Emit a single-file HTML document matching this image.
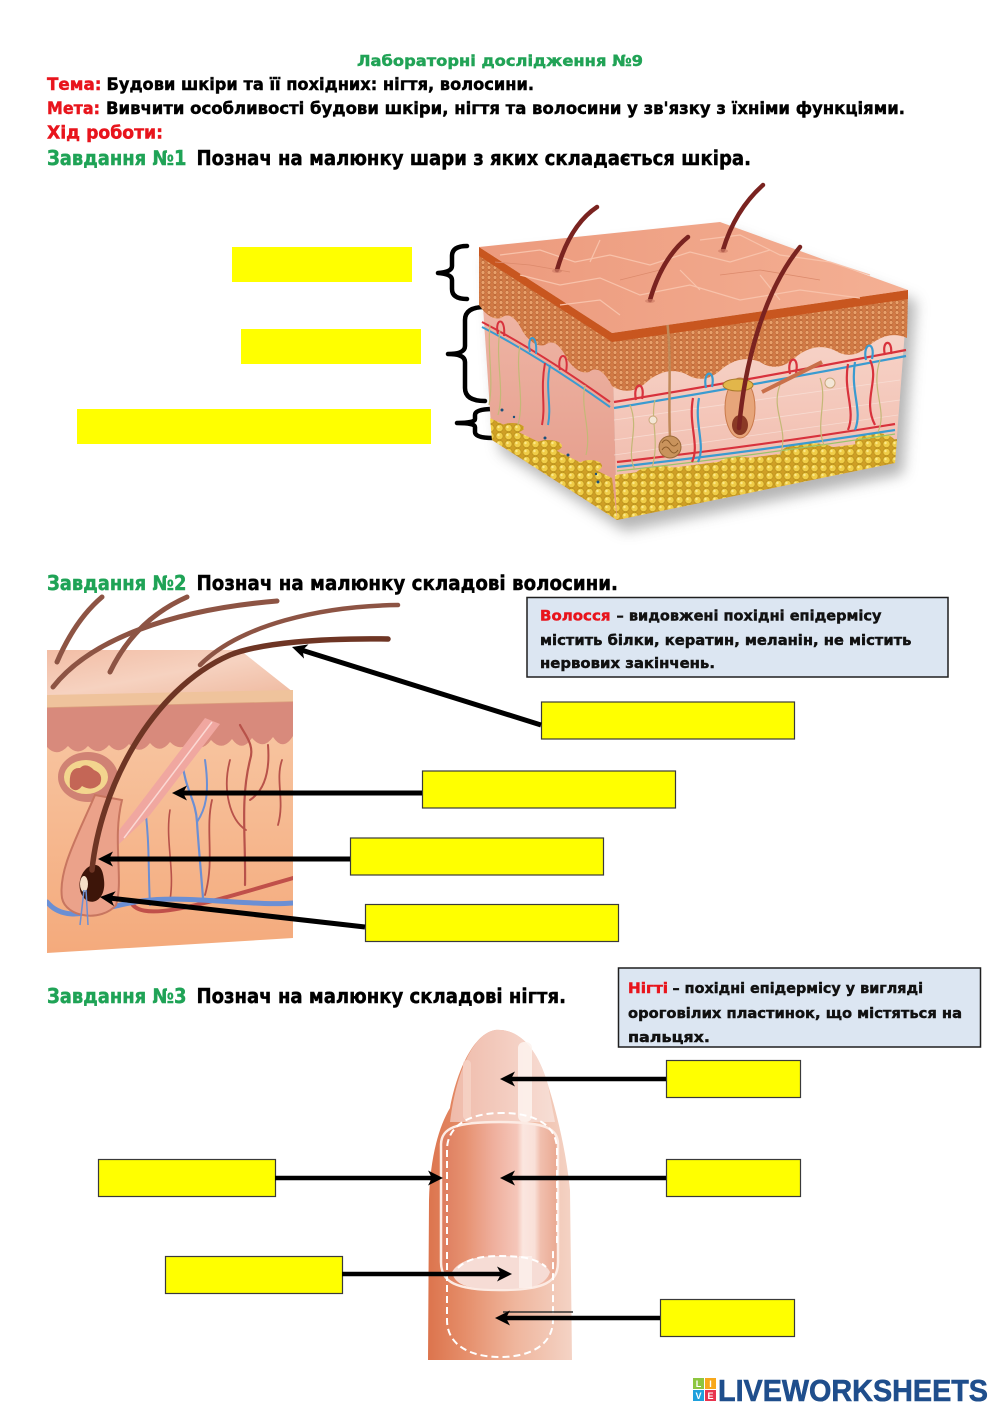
<!DOCTYPE html>
<html><head><meta charset="utf-8">
<style>
html,body{margin:0;padding:0;background:#fff;}
svg{display:block;}
.t{font-family:"DejaVu Sans","Liberation Sans",sans-serif;font-weight:bold;stroke-width:0.45;}
</style></head>
<body>
<svg width="1000" height="1414" viewBox="0 0 1000 1414" xmlns="http://www.w3.org/2000/svg">
<defs>
  <pattern id="cells" width="6" height="5" patternUnits="userSpaceOnUse">
    <rect width="6" height="5" fill="#d27a45"/>
    <circle cx="3" cy="2.5" r="2" fill="#e8a06a" stroke="#b05a2c" stroke-width="0.5"/>
  </pattern>
  <pattern id="fat" width="9" height="8" patternUnits="userSpaceOnUse">
    <rect width="9" height="8" fill="#cf9f25"/>
    <circle cx="4.5" cy="4" r="3.6" fill="#f0cd48" stroke="#b38a16" stroke-width="0.6"/>
    <circle cx="3.5" cy="3" r="1.2" fill="#fbe98a"/>
  </pattern>
  <linearGradient id="derm" x1="0" y1="0" x2="0" y2="1">
    <stop offset="0" stop-color="#f8dad0"/><stop offset="1" stop-color="#f0b6a6"/>
  </linearGradient>
  <linearGradient id="dermL" x1="0" y1="0" x2="0" y2="1">
    <stop offset="0" stop-color="#f1bcad"/><stop offset="1" stop-color="#e49a88"/>
  </linearGradient>
  <linearGradient id="topf" x1="0" y1="0" x2="1" y2="0">
    <stop offset="0" stop-color="#ec9a7d"/><stop offset="1" stop-color="#f4b094"/>
  </linearGradient>
  <filter id="blur" x="-20%" y="-20%" width="140%" height="140%"><feGaussianBlur stdDeviation="7"/></filter>
  <linearGradient id="hd" x1="0" y1="0" x2="0" y2="1">
    <stop offset="0" stop-color="#f8c9a6"/><stop offset="1" stop-color="#f4aa7c"/>
  </linearGradient>
  <linearGradient id="htop" x1="0" y1="0" x2="1" y2="1">
    <stop offset="0" stop-color="#f2bda5"/><stop offset="0.5" stop-color="#f6d2c0"/><stop offset="1" stop-color="#efb99f"/>
  </linearGradient>
  <linearGradient id="fing" x1="0" y1="0" x2="1" y2="0">
    <stop offset="0" stop-color="#dc744d"/><stop offset="0.25" stop-color="#e58d69"/>
    <stop offset="0.6" stop-color="#efb59c"/><stop offset="1" stop-color="#f4d3c5"/>
  </linearGradient>
  <linearGradient id="nail" x1="0" y1="0" x2="1" y2="0">
    <stop offset="0" stop-color="#dd7c5e"/><stop offset="0.2" stop-color="#e6906f"/>
    <stop offset="0.45" stop-color="#efaf9d"/><stop offset="0.65" stop-color="#f5c6b9"/>
    <stop offset="0.7" stop-color="#fbe6df"/><stop offset="0.8" stop-color="#f9e0d8"/>
    <stop offset="0.85" stop-color="#f1bfae"/><stop offset="1" stop-color="#e9a890"/>
  </linearGradient>
  <linearGradient id="free" x1="0" y1="0" x2="1" y2="0">
    <stop offset="0" stop-color="#efbaa9"/><stop offset="0.6" stop-color="#f4cfc3"/><stop offset="1" stop-color="#f7ded5"/>
  </linearGradient>
  <marker id="ah" viewBox="0 -8 16 16" markerWidth="16" markerHeight="16" refX="6" refY="0" orient="auto" markerUnits="userSpaceOnUse">
    <path d="M0,-7.5 L15,0 L0,7.5 L4,0 Z" fill="#000"/>
  </marker>
  <clipPath id="hclip"><rect x="47" y="597" width="246" height="356"/></clipPath>
</defs>

<!-- ================= HEADER ================= -->
<text class="t" x="357" y="66" font-size="15.5" fill="#21a356" stroke="#21a356" textLength="286" lengthAdjust="spacingAndGlyphs">Лабораторні дослідження №9</text>
<text class="t" x="47" y="90" font-size="17" fill="#e8141c" stroke="#e8141c" textLength="54.5" lengthAdjust="spacingAndGlyphs">Тема:</text>
<text class="t" x="106.5" y="90" font-size="17" fill="#000" stroke="#000" textLength="427.5" lengthAdjust="spacingAndGlyphs">Будови шкіри та її похідних: нігтя, волосини.</text>
<text class="t" x="47" y="114" font-size="17" fill="#e8141c" stroke="#e8141c" textLength="53" lengthAdjust="spacingAndGlyphs">Мета:</text>
<text class="t" x="106" y="114" font-size="17" fill="#000" stroke="#000" textLength="799" lengthAdjust="spacingAndGlyphs">Вивчити особливості будови шкіри, нігтя та волосини у зв'язку з їхніми функціями.</text>
<text class="t" x="47" y="138.5" font-size="18" fill="#e8141c" stroke="#e8141c" textLength="116" lengthAdjust="spacingAndGlyphs">Хід роботи:</text>
<text class="t" x="47" y="165" font-size="20" fill="#1fa356" stroke="#1fa356" textLength="139.5" lengthAdjust="spacingAndGlyphs">Завдання №1</text>
<text class="t" x="196.5" y="165" font-size="20" fill="#000" stroke="#000" textLength="554.5" lengthAdjust="spacingAndGlyphs">Познач на малюнку шари з яких складається шкіра.</text>

<!-- ================= SECTION 1 : skin block ================= -->
<rect x="232" y="247" width="180" height="35" fill="#ffff00"/>
<rect x="241" y="329" width="180" height="35" fill="#ffff00"/>
<rect x="77" y="409" width="354" height="35" fill="#ffff00"/>

<g fill="none" stroke="#000" stroke-width="4.5" stroke-linecap="round" stroke-linejoin="round">
  <path d="M467,246 Q452,246 452,256 L452,266 Q452,272 438,273 Q452,274 452,280 L452,289 Q452,299 467,299"/>
  <path d="M485,307 Q465,307 465,320 L465,346 Q465,354 448,354 Q465,354 465,362 L465,388 Q465,401 485,401"/>
  <path d="M493,409 Q475,409 475,415 L475,419 Q475,423 457,423 Q475,423 475,427 L475,432 Q475,438 493,438"/>
</g>

<!-- shadow -->
<polygon points="479,247 720,222 908,290 895,463 617,520 492,440" fill="#6a6a6a" opacity="0.5" filter="url(#blur)" transform="translate(8,11)"/>

<!-- left face -->
<polygon points="479,247 612,333 617,520 492,440" fill="url(#dermL)"/>
<polygon points="490,418 612,478 617,520 492,440" fill="url(#fat)"/>
<g fill="url(#fat)">
  <ellipse cx="512" cy="428" rx="12" ry="5"/><ellipse cx="548" cy="446" rx="14" ry="6"/><ellipse cx="590" cy="466" rx="12" ry="6"/>
</g>
<path d="M612,333 L479,247 L479,305 Q490,321 501,318 Q512,309 523,332 Q534,348 545,345 Q556,336 567,359 Q578,375 589,372 Q600,363 612,386 Z" fill="url(#cells)"/>
<polygon points="479,247 612,333 612,342 479,256" fill="#c8561f"/>
<!-- left face vessels -->
<g fill="none" stroke-width="2">
  <path d="M482,322 Q540,352 610,402" stroke="#d8323c"/>
  <path d="M482,327 Q540,357 610,407" stroke="#3a9bd0"/>
  <path d="M498,334 C494,318 506,316 504,336" stroke="#d8323c"/>
  <path d="M530,352 C526,334 538,332 536,354" stroke="#3a9bd0"/>
  <path d="M560,370 C556,352 570,350 566,372" stroke="#d8323c"/>
  <path d="M550,365 C545,390 552,405 548,425" stroke="#3a9bd0"/>
  <path d="M545,363 C540,390 546,405 542,425" stroke="#d8323c"/>
</g>
<g fill="none" stroke="#c4b877" stroke-width="1.2">
  <path d="M500,330 C495,360 505,390 498,415"/><path d="M520,345 C515,370 525,400 518,425"/>
  <path d="M585,385 C580,410 592,430 586,455"/><path d="M490,325 C487,350 494,380 489,405"/>
</g>

<!-- right face -->
<polygon points="612,333 908,290 895,463 617,520" fill="url(#derm)"/>
<g stroke="#f9e4dc" stroke-width="0.8" opacity="0.7">
  <line x1="614" y1="420" x2="900" y2="380"/><line x1="614" y1="440" x2="900" y2="400"/><line x1="614" y1="455" x2="898" y2="415"/>
</g>
<polygon points="615,475 897,439 895,463 617,520" fill="url(#fat)"/>
<g fill="url(#fat)">
  <ellipse cx="660" cy="474" rx="24" ry="8"/><ellipse cx="740" cy="464" rx="22" ry="7"/>
  <ellipse cx="810" cy="454" rx="30" ry="11"/><ellipse cx="875" cy="442" rx="20" ry="9"/>
</g>
<path d="M612,333 L908,290 L907,338 Q889.5,330 871,344 Q852.5,362 834,350 Q815.5,342 797,356 Q778.5,374 760,362 Q741.5,354 723,368 Q704.5,386 686,374 Q667.5,366 649,380 Q630.5,398 612,386 Z" fill="url(#cells)"/>
<polygon points="612,333 908,290 908,299 612,342" fill="#c8561f"/>
<!-- right face vessels -->
<g fill="none" stroke-width="2.2">
  <path d="M614,402 Q760,378 906,350" stroke="#d8323c"/>
  <path d="M614,408 Q760,384 906,356" stroke="#3a9bd0"/>
  <path d="M617,462 Q760,446 895,424" stroke="#d8323c"/>
  <path d="M617,467 Q760,451 895,430" stroke="#3a9bd0"/>
  <path d="M617,471 Q760,455 895,434" stroke="#9cc36a" stroke-width="1.2"/>
  <path d="M693,398 C688,425 700,445 692,462" stroke="#d8323c"/>
  <path d="M699,398 C694,425 706,445 698,462" stroke="#3a9bd0"/>
  <path d="M848,364 C843,392 856,410 848,430" stroke="#d8323c"/>
  <path d="M855,362 C850,392 863,410 855,430" stroke="#3a9bd0"/>
  <path d="M870,360 C880,380 862,400 875,425" stroke="#d8323c"/>
  <path d="M636,400 C632,382 646,380 642,399" stroke="#d8323c"/>
  <path d="M706,388 C702,370 716,368 712,387" stroke="#3a9bd0"/>
  <path d="M790,374 C786,356 800,354 796,373" stroke="#d8323c"/>
  <path d="M866,360 C862,342 876,340 872,359" stroke="#3a9bd0"/>
  <path d="M885,355 C881,340 893,338 891,354" stroke="#d8323c"/>
</g>
<g fill="none" stroke="#c4b877" stroke-width="1.2">
  <path d="M630,405 C640,430 625,450 635,470"/><path d="M780,385 C770,410 790,430 780,455"/>
  <path d="M880,360 C870,390 888,410 878,432"/><path d="M820,378 C828,400 815,425 824,445"/>
  <path d="M655,400 C650,420 660,440 652,468"/>
</g>
<ellipse cx="830" cy="383" rx="5" ry="5" fill="#f3e6d6" stroke="#c9a77a"/>
<ellipse cx="653" cy="420" rx="4" ry="4" fill="#f3e6d6" stroke="#c9a77a"/>
<!-- sweat gland -->
<path d="M670,437 C668,400 672,360 667,320" fill="none" stroke="#c08a5a" stroke-width="2.5"/>
<circle cx="670" cy="447" r="11" fill="#c9935c" stroke="#9a6a3a"/>
<path d="M662,443 q4,-6 8,0 q4,6 8,0 M662,450 q4,-6 8,0 q4,6 8,0" fill="none" stroke="#8a5a2a" stroke-width="1"/>
<ellipse cx="667" cy="318" rx="6" ry="3" fill="#bcd8e0"/>
<!-- follicle -->
<line x1="762" y1="392" x2="822" y2="362" stroke="#c9704a" stroke-width="4"/>
<ellipse cx="740" cy="408" rx="15" ry="30" fill="#e7a57a" stroke="#c9794a"/>
<ellipse cx="738" cy="385" rx="15" ry="6" fill="#e2b64a" stroke="#a87a2a"/>
<ellipse cx="740" cy="425" rx="8" ry="10" fill="#8a3a25"/>

<!-- top face -->
<polygon points="479,247 720,222 908,290 612,333" fill="url(#topf)"/>
<g fill="none" stroke="#f8c2aa" stroke-width="1.2">
  <path d="M500,255 L540,250 L575,262 L610,255 L650,265 L690,252 L730,262 L770,250"/>
  <path d="M520,275 L560,285 L600,278 L640,295 L690,285 L740,300 L800,290 L860,298"/>
  <path d="M560,305 L600,300 L620,315"/>
  <path d="M700,240 L740,235 L780,255 L830,262 L870,275"/>
  <path d="M600,240 L590,262 M680,270 L700,290 M760,275 L780,300"/>
</g>
<g fill="none" stroke="#dc8a6c" stroke-width="0.8">
  <path d="M495,262 L530,265 L570,272 M620,280 L660,270 M720,275 L760,270 L820,280"/>
</g>
<!-- hairs -->
<g fill="none" stroke="#7a2320" stroke-linecap="round">
  <path d="M557,270 Q570,225 597,207" stroke-width="4.5"/>
  <path d="M650,300 Q662,258 688,237" stroke-width="4.5"/>
  <path d="M723,250 Q735,210 763,185" stroke-width="4.5"/>
  <path d="M739,428 C745,360 765,290 800,247" stroke-width="4.5"/>
</g>
<g fill="#d07e66" opacity="0.7">
  <ellipse cx="557" cy="271" rx="5" ry="2"/><ellipse cx="650" cy="301" rx="5" ry="2"/><ellipse cx="723" cy="251" rx="5" ry="2"/>
</g>
<g fill="#1a4f7a"><circle cx="502" cy="410" r="1.5"/><circle cx="514" cy="417" r="1.2"/><circle cx="545" cy="438" r="1.5"/><circle cx="568" cy="455" r="1.5"/><circle cx="596" cy="474" r="1.2"/><circle cx="598" cy="482" r="1.5"/></g>

<!-- ================= SECTION 2 ================= -->
<text class="t" x="47" y="590" font-size="20" fill="#1fa356" stroke="#1fa356" textLength="139.5" lengthAdjust="spacingAndGlyphs">Завдання №2</text>
<text class="t" x="196.5" y="590" font-size="20" fill="#000" stroke="#000" textLength="421.5" lengthAdjust="spacingAndGlyphs">Познач на малюнку складові волосини.</text>

<rect x="527" y="597.5" width="421" height="79.5" fill="#dce6f2" stroke="#1f1f1f" stroke-width="1.5"/>
<text class="t" x="540" y="620.5" font-size="14.5" fill="#e8141c" stroke="#e8141c" textLength="70.5" lengthAdjust="spacingAndGlyphs">Волосся</text>
<text class="t" x="616.5" y="620.5" font-size="14.5" fill="#111" stroke="#111" textLength="265" lengthAdjust="spacingAndGlyphs">– видовжені похідні епідермісу</text>
<text class="t" x="540" y="645" font-size="14.5" fill="#111" stroke="#111" textLength="371.5" lengthAdjust="spacingAndGlyphs">містить білки, кератин, меланін, не містить</text>
<text class="t" x="540" y="668" font-size="14.5" fill="#111" stroke="#111" textLength="175" lengthAdjust="spacingAndGlyphs">нервових закінчень.</text>

<!-- hair image -->
<g clip-path="url(#hclip)">
  <polygon points="47,698 293,690 293,938 47,953" fill="url(#hd)"/>
  <polygon points="47,650 240,650 293,692 47,697" fill="url(#htop)"/>
  <polygon points="47,695 293,690 293,702 47,708" fill="#efc39c"/>
  <line x1="47" y1="708" x2="293" y2="702" stroke="#dca17e" stroke-width="1.5"/>
  <path d="M47,708 L293,702 L293,736 Q283,752 273,737 Q263,751 252,738 Q242,753 232,739 Q222,752 211,740 Q201,754 191,741 Q181,753 170,742 Q160,755 150,743 Q140,756 129,744 Q119,756 109,745 Q99,757 88,746 Q78,757 68,746 Q57,758 47,747 Z" fill="#d88a7c"/>
  <!-- sebaceous gland -->
  <ellipse cx="88" cy="777" rx="30" ry="25" fill="#d08274"/>
  <ellipse cx="86" cy="777" rx="22" ry="17" fill="#f3d58e"/>
  <path d="M70,787 Q68,767 80,768 Q86,762 94,770 Q104,774 100,784 Q92,792 82,786 Q76,794 70,787 Z" fill="#c46656"/>
  <!-- vessels -->
  <g fill="none" stroke-linecap="round">
    <path d="M203,898 C200,860 198,840 197,822 C196,800 185,790 182,760" stroke="#6b8fd4" stroke-width="2.2"/>
    <path d="M197,822 C205,810 210,795 205,760" stroke="#6b8fd4" stroke-width="2"/>
    <path d="M150,905 C148,870 150,840 144,800" stroke="#6b8fd4" stroke-width="2"/>
    <path d="M245,885 C246,840 240,800 250,760 C255,745 245,735 240,725" stroke="#b8524a" stroke-width="2.2"/>
    <path d="M250,800 C265,790 270,770 268,745" stroke="#b8524a" stroke-width="2"/>
    <path d="M246,830 C230,820 222,790 230,760" stroke="#b8524a" stroke-width="1.8"/>
    <path d="M205,895 C215,860 205,830 212,800" stroke="#b8524a" stroke-width="1.8"/>
    <path d="M282,760 C275,780 285,800 278,825" stroke="#b8524a" stroke-width="1.8"/>
    <path d="M170,900 C175,870 165,840 170,810" stroke="#b8524a" stroke-width="1.6"/>
    <path d="M130,900 C138,925 200,905 293,878" stroke="#c0504a" stroke-width="4"/>
    <path d="M47,902 C60,918 80,915 100,910 C130,902 150,897 200,900 C240,902 270,905 293,903" stroke="#6b8fd4" stroke-width="5"/>
  </g>
  <!-- arrector pili -->
  <polygon points="205,718 220,724 150,815 118,845 112,839 135,810" fill="#f0a7a0"/>
  <path d="M212,722 L124,838" stroke="#fbd9d4" stroke-width="1.5"/>
  <!-- follicle -->
  <path d="M95,795 C78,835 58,870 62,898 C66,918 102,922 116,905 C124,880 112,840 122,800 Z" fill="#eba28a" stroke="#c87660" stroke-width="2"/>
  <path d="M93,865 C80,868 74,890 86,900 C96,906 106,896 104,880 C103,870 100,864 93,865 Z" fill="#3d1509"/>
  <ellipse cx="84" cy="884" rx="4" ry="8" fill="#f6e0c8"/>
  <path d="M84,890 L80,925 M86,890 L88,925" stroke="#6b8fd4" stroke-width="1.5"/>
</g>
<!-- hairs above -->
<g fill="none" stroke="#8d5444" stroke-linecap="round">
  <path d="M57,662 Q75,620 102,597" stroke-width="5"/>
  <path d="M53,687 C90,640 170,610 277,601" stroke-width="5"/>
  <path d="M110,672 Q135,620 187,597" stroke-width="5"/>
  <path d="M200,665 C240,625 320,606 398,605" stroke-width="4.5"/>
  <path d="M92,870 C100,790 150,690 230,655 C260,643 320,638 388,639" stroke="#6e3524" stroke-width="5.5"/>
</g>

<!-- section 2 boxes -->
<g fill="#ffff00" stroke="#3a3a3a" stroke-width="1.2">
  <rect x="541.5" y="702" width="253" height="37"/>
  <rect x="422.5" y="771" width="253" height="37"/>
  <rect x="350.5" y="838" width="253" height="37"/>
  <rect x="365.5" y="904.5" width="253" height="37"/>
</g>
<g stroke="#000" stroke-width="5" fill="none" marker-end="url(#ah)">
  <line x1="541" y1="725" x2="300.6" y2="649.7"/>
  <line x1="422" y1="793" x2="181" y2="793"/>
  <line x1="350" y1="859" x2="107" y2="859"/>
  <line x1="365" y1="927" x2="108.9" y2="898"/>
</g>

<!-- ================= SECTION 3 ================= -->
<text class="t" x="47" y="1003" font-size="20" fill="#1fa356" stroke="#1fa356" textLength="139.5" lengthAdjust="spacingAndGlyphs">Завдання №3</text>
<text class="t" x="196.5" y="1003" font-size="20" fill="#000" stroke="#000" textLength="369.5" lengthAdjust="spacingAndGlyphs">Познач на малюнку складові нігтя.</text>

<rect x="618.5" y="968" width="362" height="79" fill="#dce6f2" stroke="#1f1f1f" stroke-width="1.5"/>
<text class="t" x="628" y="993" font-size="14.5" fill="#e8141c" stroke="#e8141c" textLength="40" lengthAdjust="spacingAndGlyphs">Нігті</text>
<text class="t" x="672.5" y="993" font-size="14.5" fill="#111" stroke="#111" textLength="250.5" lengthAdjust="spacingAndGlyphs">– похідні епідермісу у вигляді</text>
<text class="t" x="628" y="1018" font-size="14.5" fill="#111" stroke="#111" textLength="334" lengthAdjust="spacingAndGlyphs">ороговілих пластинок, що містяться на</text>
<text class="t" x="628" y="1042" font-size="14.5" fill="#111" stroke="#111" textLength="82" lengthAdjust="spacingAndGlyphs">пальцях.</text>

<!-- finger -->
<path d="M428,1360 L429,1200 C430,1160 438,1128 450,1108 C455,1080 470,1035 495,1030 C520,1028 538,1050 548,1085 C556,1110 566,1150 570,1190 L572,1360 Z" fill="url(#fing)"/>
<path d="M450,1122 C455,1080 470,1035 495,1030 C520,1028 538,1050 548,1085 L555,1122 Z" fill="url(#free)"/>
<rect x="518" y="1042" width="14" height="80" rx="6" fill="#fdf3ef" opacity="0.85"/>
<rect x="463" y="1060" width="8" height="60" rx="4" fill="#f6d3c7" opacity="0.8"/>
<path d="M441,1145 C441,1128 455,1122 500,1122 C545,1122 558,1128 558,1145 L558,1262 C558,1282 545,1290 500,1290 C455,1290 441,1282 441,1262 Z" fill="url(#nail)" stroke="#fcebe4" stroke-width="2.5"/>
<path d="M452,1272 C460,1258 482,1256 500,1256 C528,1256 545,1262 550,1272 C545,1287 528,1289 500,1289 C472,1289 455,1287 452,1272 Z" fill="#f6dcd5"/>
<rect x="519" y="1256" width="13" height="32" fill="#fdf3ef" opacity="0.7"/>
<g fill="none" stroke="#ffffff" stroke-width="2" stroke-dasharray="7 4">
  <path d="M447,1245 L447,1150 C447,1125 470,1113 502,1113 C535,1113 557,1125 557,1150 L557,1245"/>
  <path d="M458,1268 C468,1257 488,1256 500,1256 C520,1256 536,1258 546,1267"/>
  <path d="M447,1252 L447,1320 C447,1345 470,1357 500,1357 C530,1357 553,1345 553,1320 L553,1248"/>
</g>

<!-- nail boxes -->
<g fill="#ffff00" stroke="#3a3a3a" stroke-width="1.2">
  <rect x="666.5" y="1060.5" width="134" height="37"/>
  <rect x="666.5" y="1159.5" width="134" height="37"/>
  <rect x="98.5" y="1159.5" width="177" height="37"/>
  <rect x="165.5" y="1256.5" width="177" height="37"/>
  <rect x="660.5" y="1299.5" width="134" height="37"/>
</g>
<line x1="503" y1="1312" x2="573" y2="1312" stroke="#333" stroke-width="1.5"/>
<g stroke="#000" stroke-width="4.5" fill="none" marker-end="url(#ah)">
  <line x1="666" y1="1079" x2="509" y2="1079"/>
  <line x1="666" y1="1178" x2="509" y2="1178"/>
  <line x1="275" y1="1178" x2="434" y2="1178"/>
  <line x1="342" y1="1274" x2="503" y2="1274"/>
  <line x1="660" y1="1318" x2="504" y2="1318"/>
</g>

<!-- ================= LOGO ================= -->
<rect x="693" y="1378" width="11" height="11" fill="#8dc63f"/>
<rect x="705" y="1378" width="11" height="11" fill="#f7a81b"/>
<rect x="693" y="1390" width="11" height="11" fill="#1fa0dc"/>
<rect x="705" y="1390" width="11" height="11" fill="#e8344e"/>
<g font-family="Liberation Sans, sans-serif" font-weight="bold" font-size="9" fill="#fff" text-anchor="middle">
  <text x="698.5" y="1387">L</text><text x="710.5" y="1387">I</text><text x="698.5" y="1399">V</text><text x="710.5" y="1399">E</text>
</g>
<text x="718" y="1401" font-family="Liberation Sans, sans-serif" font-weight="bold" font-size="31" fill="#1f4e8c" stroke="#1f4e8c" stroke-width="0.6" textLength="270" lengthAdjust="spacingAndGlyphs">LIVEWORKSHEETS</text>
</svg>
</body></html>
